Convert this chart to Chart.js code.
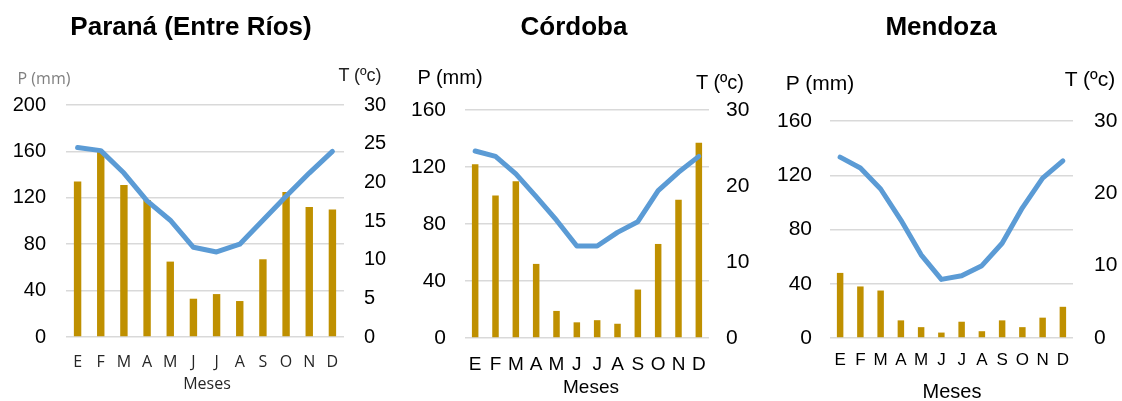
<!DOCTYPE html>
<html lang="es">
<head>
<meta charset="utf-8">
<title>Climogramas</title>
<script src="https://cdn.jsdelivr.net/npm/chart.js@4.4.1/dist/chart.umd.min.js"></script>
<style>
  body { margin: 0; background: #fff; width: 1122px; height: 401px; overflow: hidden; position: relative; font-family: 'Liberation Sans', Arial, sans-serif; }
  canvas { position: absolute; top: 0; }
  .txt { position: absolute; transform: translate(-50%, -50%); line-height: 1; white-space: nowrap; color: #000; }
  .titulo { font-weight: bold; font-size: 26px; }
</style>
</head>
<body>
<canvas id="graficoParana" width="395" height="401" style="left:0px"></canvas>
<canvas id="graficoCordoba" width="370" height="401" style="left:390px"></canvas>
<canvas id="graficoMendoza" width="362" height="401" style="left:760px"></canvas>

<!-- Títulos y rótulos de ejes -->
<div class="txt titulo" style="left:191px;top:26px">Paraná (Entre Ríos)</div>
<div class="txt titulo" style="left:574px;top:26px">Córdoba</div>
<div class="txt titulo" style="left:941px;top:26px">Mendoza</div>

<div class="txt" style="left:44px;top:78px;font-family:'Open Sans';font-size:16px;color:#7f7f7f">P (mm)</div>
<div class="txt" style="left:360px;top:75px;font-size:18px;color:#222">T (ºc)</div>
<div class="txt" style="left:207px;top:383px;font-family:'Open Sans';font-size:16px;color:#262626">Meses</div>

<div class="txt" style="left:450px;top:77px;font-size:20px">P (mm)</div>
<div class="txt" style="left:720px;top:82px;font-size:20px">T (ºc)</div>
<div class="txt" style="left:591px;top:386px;font-size:19px">Meses</div>

<div class="txt" style="left:820px;top:82px;font-size:21px">P (mm)</div>
<div class="txt" style="left:1090px;top:78px;font-size:21px">T (ºc)</div>
<div class="txt" style="left:952px;top:391px;font-size:20px">Meses</div>

<script>
// Datos
const meses = ['E', 'F', 'M', 'A', 'M', 'J', 'J', 'A', 'S', 'O', 'N', 'D'];

const precipParana = [134, 160, 131, 118, 65, 33, 37, 31, 67, 125, 112, 110];
const tempParana = [24.5, 24.1, 21.2, 17.6, 15.1, 11.6, 11.0, 12.0, 15.1, 18.2, 21.2, 24.0];

const precipCordoba = [122, 100, 110, 52, 19, 11, 12.5, 10, 34, 66, 97, 137];
const tempCordoba = [24.6, 23.9, 21.6, 18.6, 15.5, 12.1, 12.1, 13.9, 15.3, 19.4, 21.8, 23.9];

const precipMendoza = [48, 38, 35, 13, 8, 4, 12, 5, 13, 8, 15, 23];
const tempMendoza = [25.0, 23.5, 20.6, 16.3, 11.5, 8.1, 8.6, 10.0, 13.1, 18.0, 22.1, 24.5];

const AZUL = '#5B9BD5';
const DORADO = '#BF9000';
const ALTO = 401;

function crearClimograma(id, cfg) {
    const ctx = document.getElementById(id).getContext('2d');
    return new Chart(ctx, {
        type: 'bar',
        data: {
            labels: meses,
            datasets: [
                {
                    type: 'line',
                    data: cfg.temp,
                    yAxisID: 'yT',
                    borderColor: AZUL,
                    borderWidth: 5,
                    borderCapStyle: 'round',
                    borderJoinStyle: 'round',
                    pointRadius: 0,
                    tension: 0,
                    order: 0
                },
                {
                    type: 'bar',
                    data: cfg.precip,
                    yAxisID: 'yP',
                    backgroundColor: DORADO,
                    barPercentage: 0.32,
                    categoryPercentage: 1,
                    order: 1
                }
            ]
        },
        options: {
            responsive: false,
            animation: false,
            layout: { padding: { top: cfg.top, left: 0, right: 0, bottom: 0 } },
            plugins: { legend: { display: false }, tooltip: { enabled: false } },
            scales: {
                x: {
                    grid: { display: false, drawTicks: false },
                    border: { display: false },
                    ticks: {
                        autoSkip: false,
                        maxRotation: 0,
                        padding: cfg.xPad,
                        color: cfg.xColor,
                        font: { family: cfg.xFamily, size: cfg.xSize }
                    },
                    afterFit: s => { s.height = ALTO - cfg.bottom; }
                },
                yP: {
                    position: 'left',
                    min: 0,
                    max: cfg.maxP,
                    ticks: {
                        stepSize: cfg.stepP,
                        padding: cfg.padL,
                        color: '#000',
                        font: { family: 'Liberation Sans', size: cfg.tickSize }
                    },
                    grid: { color: '#d9d9d9', lineWidth: 1.5, drawTicks: false },
                    border: { display: false },
                    afterFit: s => { s.width = cfg.leftW; }
                },
                yT: {
                    position: 'right',
                    min: 0,
                    max: 30,
                    ticks: {
                        stepSize: cfg.stepT,
                        padding: cfg.padR,
                        color: '#000',
                        font: { family: 'Liberation Sans', size: cfg.tickSize }
                    },
                    grid: { display: false, drawTicks: false },
                    border: { display: false },
                    afterFit: s => { s.width = cfg.rightW; }
                }
            }
        }
    });
}

crearClimograma('graficoParana', {
    precip: precipParana, temp: tempParana,
    maxP: 200, stepP: 40, stepT: 5,
    top: 105, bottom: 337, leftW: 66, rightW: 51,
    padL: 20, padR: 20, tickSize: 20,
    xPad: 16, xSize: 16, xFamily: 'Open Sans', xColor: '#262626'
});

crearClimograma('graficoCordoba', {
    precip: precipCordoba, temp: tempCordoba,
    maxP: 160, stepP: 40, stepT: 10,
    top: 110, bottom: 338, leftW: 75, rightW: 51,
    padL: 19, padR: 17, tickSize: 21,
    xPad: 15, xSize: 19, xFamily: 'Liberation Sans', xColor: '#000'
});

crearClimograma('graficoMendoza', {
    precip: precipMendoza, temp: tempMendoza,
    maxP: 160, stepP: 40, stepT: 10,
    top: 121, bottom: 338, leftW: 70, rightW: 49,
    padL: 18, padR: 21, tickSize: 21,
    xPad: 12, xSize: 17, xFamily: 'Liberation Sans', xColor: '#000'
});
</script>
</body>
</html>
